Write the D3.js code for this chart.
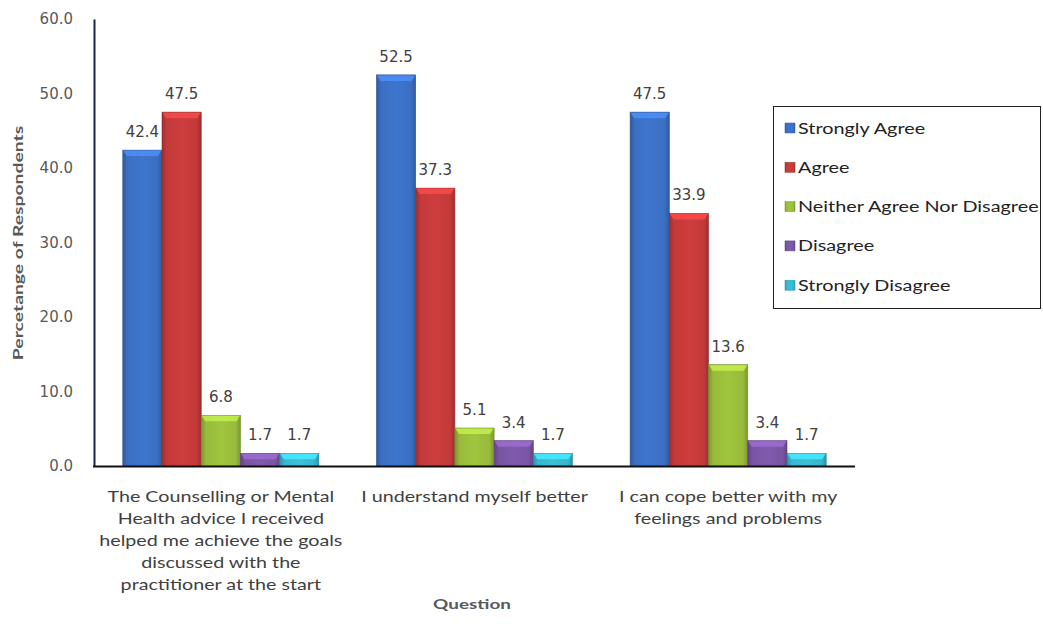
<!DOCTYPE html>
<html><head><meta charset="utf-8">
<script src="https://cdn.jsdelivr.net/npm/d3@7"></script>
<style>body{margin:0;background:#fff}</style>
</head><body>
<svg id="c" width="1043" height="639"></svg>
<script>
const categories = [
  ["The Counselling or Mental","Health advice I received","helped me achieve the goals","discussed with the","practitioner at the start"],
  ["I understand myself better"],
  ["I can cope better with my","feelings and problems"]
];
const seriesNames = ["Strongly Agree","Agree","Neither Agree Nor Disagree","Disagree","Strongly Disagree"];
const stronglyAgree = [42.4, 52.5, 47.5];
const agree = [47.5, 37.3, 33.9];
const neither = [6.8, 5.1, 13.6];
const disagree = [1.7, 3.4, 3.4];
const stronglyDisagree = [1.7, 1.7, 1.7];
const yTicks = [0,10,20,30,40,50,60];
const colors = ["#3b6fc2","#c33a3a","#98bb3b","#7a55a3","#38b6cf"];

(function(){
const series = [stronglyAgree, agree, neither, disagree, stronglyDisagree];
const svg = d3.select("#c");
const pLeft = 94, pRight = 855, pTop = 19, pBottom = 466;
const numFont = "'DejaVu Sans', sans-serif";
const txtFont = "Lato, 'Open Sans', sans-serif";
const SX = 1.27;

const x0 = d3.scaleBand().domain(d3.range(categories.length)).range([pLeft, pRight]).paddingInner(0.227).paddingOuter(0.1135);
const x1 = d3.scaleBand().domain(d3.range(seriesNames.length)).range([0, x0.bandwidth()]);
const y = d3.scaleLinear().domain([0, 60]).range([pBottom, pTop]);

const defs = svg.append("defs");
colors.forEach((c, i) => {
  const g = defs.append("linearGradient").attr("id", "g" + i).attr("x1", "0").attr("x2", "1").attr("y1", "0").attr("y2", "0");
  const dk = d3.color(c).darker(0.6), lt = d3.color(c).brighter(0.15);
  g.append("stop").attr("offset", "0").attr("stop-color", dk);
  g.append("stop").attr("offset", "0.12").attr("stop-color", c);
  g.append("stop").attr("offset", "0.5").attr("stop-color", lt);
  g.append("stop").attr("offset", "0.88").attr("stop-color", c);
  g.append("stop").attr("offset", "1").attr("stop-color", dk);
});

const yAxis = d3.axisLeft(y).tickValues(yTicks).tickSize(0).tickPadding(21).tickFormat(d3.format(".1f"));
const ya = svg.append("g").attr("transform", `translate(${pLeft},0)`).call(yAxis);
ya.select(".domain").attr("stroke", "#1c2452").attr("stroke-width", 2);
ya.selectAll("text").attr("font-family", numFont).attr("font-size", 15).attr("fill", "#595959");

const groups = svg.append("g").selectAll("g").data(categories).join("g")
  .attr("transform", (d, i) => `translate(${x0(i)},0)`);
groups.each(function(_, ci) {
  const g = d3.select(this);
  series.forEach((s, si) => {
    const v = s[ci];
    const bx = x1(si), bw = x1.bandwidth();
    g.append("rect").attr("x", bx).attr("y", y(v)).attr("width", bw).attr("height", pBottom - y(v))
      .attr("fill", `url(#g${si})`).attr("stroke", d3.color(colors[si]).darker(0.8)).attr("stroke-width", 0.6);
    const cap = Math.min(6, pBottom - y(v));
    g.append("path").attr("d", `M${bx+0.5},${y(v)+0.5} L${bx+bw-0.5},${y(v)+0.5} L${bx+bw-4},${y(v)+cap} L${bx+4},${y(v)+cap} Z`)
      .attr("fill", d3.color(colors[si]).brighter(0.7)).attr("opacity", 0.85);
    g.append("text").attr("x", bx + bw / 2).attr("y", y(v) - 13).attr("text-anchor", "middle")
      .attr("font-family", numFont).attr("font-size", 15).attr("fill", "#404040").text(d3.format(".1f")(v));
  });
});

svg.append("line").attr("x1", pLeft - 1).attr("x2", pRight).attr("y1", pBottom + 0.5).attr("y2", pBottom + 0.5)
  .attr("stroke", "#111").attr("stroke-width", 2);

categories.forEach((lines, i) => {
  const cx = x0(i) + x0.bandwidth() / 2;
  lines.forEach((ln, k) => {
    svg.append("text").attr("transform", `translate(${cx},${502 + k * 22}) scale(${SX},1)`)
      .attr("text-anchor", "middle").attr("font-family", txtFont)
      .attr("font-size", 15.5).attr("fill", "#404040").text(ln);
  });
});

svg.append("text").attr("transform", `translate(472,609) scale(1.35,1)`).attr("text-anchor", "middle").attr("font-family", txtFont)
  .attr("font-weight", "bold").attr("font-size", 14).attr("fill", "#595959").text("Question");
svg.append("text").attr("transform", "translate(23,243) rotate(-90) scale(1.38,1)").attr("text-anchor", "middle")
  .attr("font-family", txtFont).attr("font-weight", "bold").attr("font-size", 14).attr("fill", "#595959")
  .text("Percetange of Respondents");

const lg = svg.append("g");
lg.append("rect").attr("x", 773.5).attr("y", 106.5).attr("width", 267).attr("height", 202)
  .attr("fill", "#fff").attr("stroke", "#222").attr("stroke-width", 1);
seriesNames.forEach((n, i) => {
  const yy = 128 + i * 39.3;
  lg.append("rect").attr("x", 785).attr("y", yy - 5).attr("width", 10).attr("height", 10)
    .attr("fill", `url(#g${i})`).attr("stroke", d3.color(colors[i]).darker(0.6)).attr("stroke-width", 0.5);
  lg.append("text").attr("transform", `translate(798,${yy + 5.5}) scale(1.24,1)`).attr("font-family", txtFont).attr("font-size", 16)
    .attr("fill", "#222").text(n);
});
})();
</script>
</body></html>
